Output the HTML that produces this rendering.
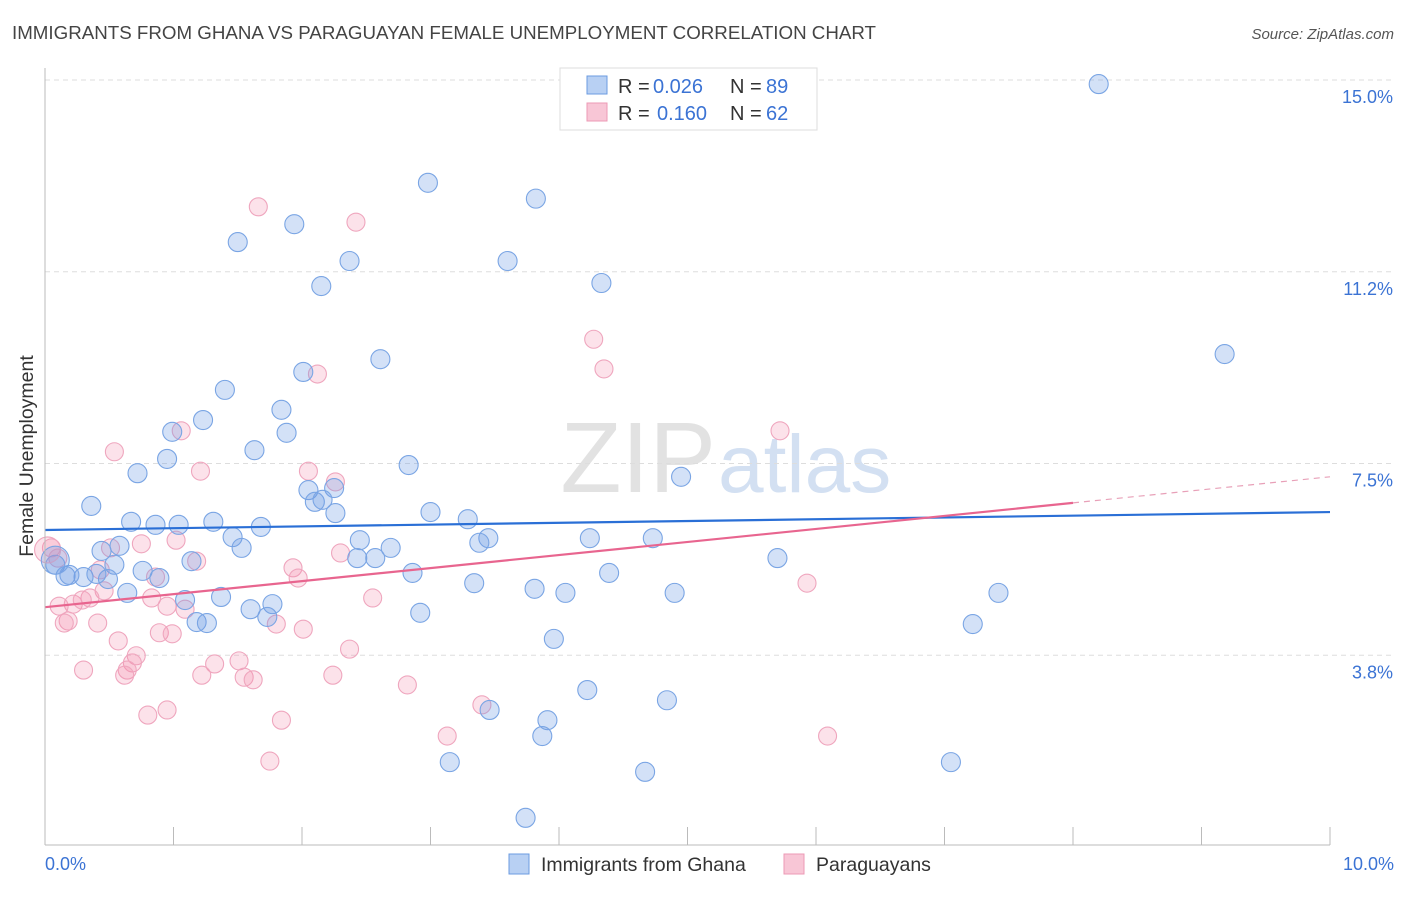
<!DOCTYPE html>
<html><head><meta charset="utf-8"><style>
body{margin:0;background:#fff;font-family:"Liberation Sans",sans-serif}
svg text{font-family:"Liberation Sans",sans-serif}
</style></head><body>
<svg id="c" width="1406" height="892">
<text x="12" y="39" font-size="18" fill="#444" textLength="864" lengthAdjust="spacingAndGlyphs">IMMIGRANTS FROM GHANA VS PARAGUAYAN FEMALE UNEMPLOYMENT CORRELATION CHART</text>
<text x="1394" y="39" font-size="15" fill="#555" font-style="italic" text-anchor="end">Source: ZipAtlas.com</text>
<text transform="translate(33,456) rotate(-90)" font-size="19.5" fill="#333" text-anchor="middle">Female Unemployment</text>
<text x="716" y="492" font-size="100" fill="#e2e2e2" text-anchor="end" font-family="Liberation Serif">ZIP</text>
<text x="718" y="492" font-size="82" fill="#d3e0f2">atlas</text>
<g id="grid"></g><g id="pts"></g><g id="trend"></g>
<line x1="45" y1="68" x2="45" y2="845" stroke="#bbb"/>
<line x1="45" y1="845" x2="1330" y2="845" stroke="#bbb"/>
<text x="45" y="870" font-size="18" fill="#3b73d4">0.0%</text>
<text x="1394" y="870" font-size="18" fill="#3b73d4" text-anchor="end">10.0%</text>
<g>
<rect x="560" y="68" width="257" height="62" fill="#fff" stroke="#ddd"/>
<rect x="587" y="76" width="20" height="18" fill="#b8d0f3" stroke="#6b9be0"/>
<rect x="587" y="103" width="20" height="18" fill="#f8c6d6" stroke="#ec9ab5"/>
<text x="618" y="93" font-size="20" fill="#333">R =</text>
<text x="653" y="93" font-size="20" fill="#3b73d4">0.026</text>
<text x="730" y="93" font-size="20" fill="#333">N =</text>
<text x="766" y="93" font-size="20" fill="#3b73d4">89</text>
<text x="618" y="120" font-size="20" fill="#333">R =</text>
<text x="657" y="120" font-size="20" fill="#3b73d4">0.160</text>
<text x="730" y="120" font-size="20" fill="#333">N =</text>
<text x="766" y="120" font-size="20" fill="#3b73d4">62</text>
</g>
<g>
<rect x="509" y="854" width="20" height="20" fill="#b8d0f3" stroke="#6b9be0"/>
<text x="541" y="871" font-size="19.5" fill="#333">Immigrants from Ghana</text>
<rect x="784" y="854" width="20" height="20" fill="#f8c6d6" stroke="#ec9ab5"/>
<text x="816" y="871" font-size="19.5" fill="#333">Paraguayans</text>
</g>
</svg>
<script>
const yTicks=[3.75,7.5,11.25,15];
const yTickLabels=["3.8%","7.5%","11.2%","15.0%"];
const xTicks=[0,1,2,3,4,5,6,7,8,9,10];
const ghanaX=[8.20,2.98,3.82,1.94,1.50,2.37,3.60,2.15,4.33,9.18,2.61,2.01,1.40,1.84,1.23,0.99,1.88,1.63,0.95,2.83,0.72,4.95,0.36,2.05,2.25,2.10,2.16,2.26,3.00,3.29,0.67,0.86,1.04,1.31,1.68,1.46,2.45,3.45,3.38,4.24,4.73,1.53,2.69,0.44,0.58,2.43,2.57,5.70,1.14,0.08,0.54,0.76,0.89,0.49,0.16,0.30,0.40,2.86,4.39,3.34,3.81,4.05,4.90,7.42,0.64,1.09,1.37,1.77,1.60,2.92,1.73,1.18,1.26,7.22,3.96,4.22,4.84,3.46,3.91,3.87,3.15,7.05,4.67,3.74,0.19];
const ghanaY=[14.92,12.99,12.68,12.18,11.83,11.46,11.46,10.97,11.03,9.64,9.54,9.29,8.94,8.55,8.35,8.12,8.10,7.76,7.59,7.47,7.31,7.24,6.67,6.98,7.02,6.75,6.79,6.53,6.55,6.41,6.36,6.30,6.30,6.36,6.26,6.06,6.00,6.04,5.95,6.04,6.04,5.85,5.85,5.79,5.89,5.65,5.65,5.65,5.59,5.52,5.52,5.40,5.26,5.24,5.30,5.28,5.34,5.36,5.36,5.16,5.05,4.97,4.97,4.97,4.97,4.83,4.89,4.75,4.65,4.58,4.50,4.40,4.38,4.36,4.07,3.07,2.87,2.68,2.48,2.17,1.66,1.66,1.47,0.57,5.32];
const paraX=[1.66,2.42,4.27,4.35,2.12,5.72,1.06,0.54,1.21,2.05,2.26,1.18,0.51,0.75,1.02,0.05,0.10,2.30,1.93,1.97,0.43,0.86,5.93,0.83,0.46,0.35,0.22,0.29,0.11,2.55,1.09,0.95,0.18,0.15,0.41,0.89,0.99,1.80,2.01,0.57,2.37,0.71,1.32,1.51,0.68,0.64,0.30,0.62,1.22,1.55,1.62,2.24,2.82,3.40,1.84,0.80,0.95,3.13,6.09,1.75];
const paraY=[12.52,12.22,9.93,9.35,9.25,8.14,8.14,7.73,7.35,7.35,7.14,5.59,5.85,5.93,6.00,5.85,5.65,5.75,5.46,5.26,5.42,5.28,5.16,4.87,5.01,4.87,4.75,4.83,4.71,4.87,4.65,4.71,4.42,4.38,4.38,4.19,4.17,4.36,4.26,4.03,3.87,3.74,3.58,3.64,3.60,3.46,3.46,3.36,3.36,3.32,3.27,3.36,3.17,2.78,2.48,2.58,2.68,2.17,2.17,1.68];
const bigGhana=[0.08,5.61], bigPara=[0.02,5.81];
const ghanaTrend=[[0,6.20],[10,6.55]];
const paraTrend=[[0,4.69],[8,6.73],[10,7.24]];
const NS="http://www.w3.org/2000/svg";
const sx=v=>45+v*128.5, sy=v=>847-v/15*767;
function mk(t,a,p){const e=document.createElementNS(NS,t);for(const k in a)e.setAttribute(k,a[k]);document.getElementById(p).appendChild(e);return e;}
yTicks.forEach((v,i)=>{
 const l=mk('line',{x1:45,x2:1393,y1:sy(v),y2:sy(v),stroke:'#ddd','stroke-dasharray':'5,4'},'grid');
 
 
 const t=mk('text',{x:1393,y:sy(v)+23,'font-size':18,fill:'#3b73d4','text-anchor':'end'},'grid');
 t.textContent=yTickLabels[i];
 
 
});
xTicks.forEach(v=>{
 const l=mk('line',{x1:sx(v),x2:sx(v),y1:827,y2:845,stroke:'#bbb'},'grid');
 
 
});
function dot(x,y,r,blue){
 const c=mk('circle',{cx:sx(x),cy:sy(y),r:r,fill:blue?'rgba(110,155,230,0.3)':'rgba(242,140,170,0.25)',stroke:blue?'#7aa5e4':'#efa6be','stroke-width':1.1},'pts');
 
 
}
paraX.forEach((x,i)=>dot(x,paraY[i],9,false));
ghanaX.forEach((x,i)=>dot(x,ghanaY[i],9.5,true));
dot(bigPara[0],bigPara[1],13,false);
dot(bigGhana[0],bigGhana[1],14,true);
const bl=mk('line',{x1:sx(ghanaTrend[0][0]),y1:sy(ghanaTrend[0][1]),x2:sx(ghanaTrend[1][0]),y2:sy(ghanaTrend[1][1]),stroke:'#2a6fd6','stroke-width':2.2},'trend');


const pl=mk('line',{x1:sx(paraTrend[0][0]),y1:sy(paraTrend[0][1]),x2:sx(paraTrend[1][0]),y2:sy(paraTrend[1][1]),stroke:'#e8658f','stroke-width':2.2},'trend');


const pd=mk('line',{x1:sx(paraTrend[1][0]),y1:sy(paraTrend[1][1]),x2:sx(paraTrend[2][0]),y2:sy(paraTrend[2][1]),stroke:'#e8a0b8','stroke-width':1.2,'stroke-dasharray':'6,5'},'trend');


</script>
</body></html>
